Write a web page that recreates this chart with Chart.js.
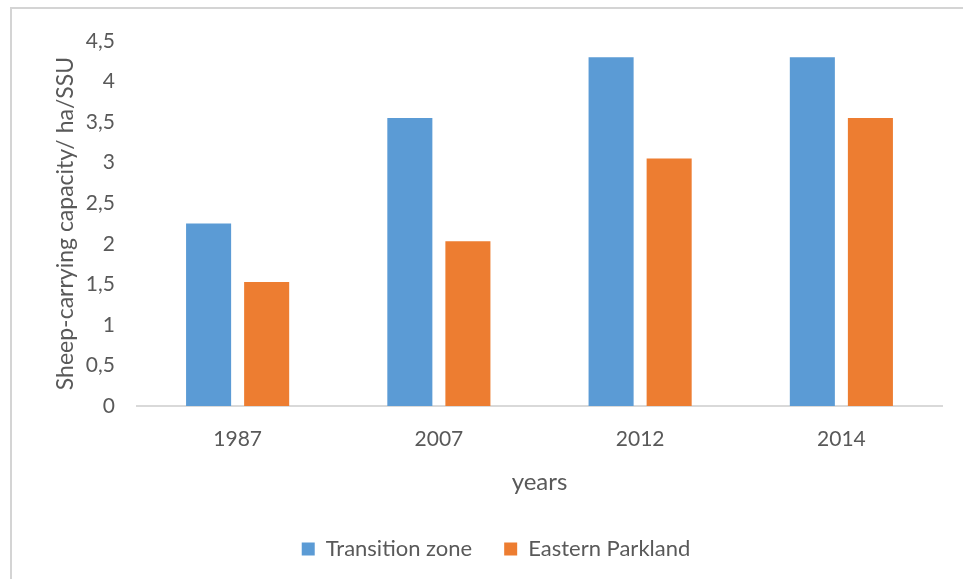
<!DOCTYPE html>
<html>
<head>
<meta charset="utf-8">
<script src="https://cdn.jsdelivr.net/npm/chart.js@4"></script>
<style>
  html, body { margin: 0; padding: 0; background: #fff; }
  #wrap { position: relative; width: 963px; height: 579px; overflow: hidden; }
  #frame { position: absolute; left: 10px; top: 7px; width: 980px; height: 600px;
           border-top: 2px solid #d4d4d4; border-left: 2px solid #d4d4d4; }
  canvas { position: absolute; left: 0; top: 0; }
</style>
</head>
<body>
<div id="wrap">
  <div id="frame"></div>
  <canvas id="chart" width="963" height="579"></canvas>
</div>
<script>
// categories and series values
const years = ['1987', '2007', '2012', '2014'];
const transitionZone = [2.25, 3.55, 4.3, 4.3];
const easternParkland = [1.53, 2.03, 3.05, 3.55];
const yTicks = [0, 0.5, 1, 1.5, 2, 2.5, 3, 3.5, 4, 4.5];

const textColor = '#595959';
const fontFamily = 'Lato, "Open Sans", sans-serif';

Chart.defaults.font.family = fontFamily;
Chart.defaults.color = textColor;

new Chart(document.getElementById('chart'), {
    type: 'bar',
    data: {
        labels: years,
        datasets: [
            { label: 'Transition zone', data: transitionZone, backgroundColor: '#5b9bd5', borderColor: '#5b9bd5', borderWidth: 0 },
            { label: 'Eastern Parkland', data: easternParkland, backgroundColor: '#ed7d31', borderColor: '#ed7d31', borderWidth: 0 }
        ]
    },
    options: {
        responsive: false,
        animation: false,
        layout: { padding: { left: 50, right: 21, top: 41, bottom: 9 } },
        datasets: { bar: { categoryPercentage: 0.577, barPercentage: 0.776 } },
        plugins: {
            tooltip: { enabled: false },
            legend: {
                position: 'bottom',
                labels: {
                    boxWidth: 13, boxHeight: 13, padding: 32,
                    font: { size: 22 }, color: textColor
                }
            }
        },
        scales: {
            x: {
                grid: { display: false, drawTicks: false },
                border: { display: true, color: '#d9d9d9', width: 2 },
                ticks: { font: { size: 21 }, color: textColor, padding: 21 },
                title: { display: true, text: 'years', font: { size: 24 }, color: textColor, padding: { top: 0, bottom: 9 } },
                afterFit: s => { s.height = 100; }
            },
            y: {
                min: 0, max: 4.5,
                grid: { display: false, drawTicks: false },
                border: { display: false },
                afterBuildTicks: s => { s.ticks = yTicks.map(v => ({ value: v })); },
                ticks: {
                    font: { size: 21 }, color: textColor, padding: 22,
                    callback: v => String(v).replace('.', ',')
                },
                title: { display: true, text: 'Sheep-carrying capacity/ ha/SSU', font: { size: 23 }, color: textColor, padding: { top: 2, bottom: 0 } },
                afterFit: s => { s.width = 87; }
            }
        }
    }
});
</script>
</body>
</html>
